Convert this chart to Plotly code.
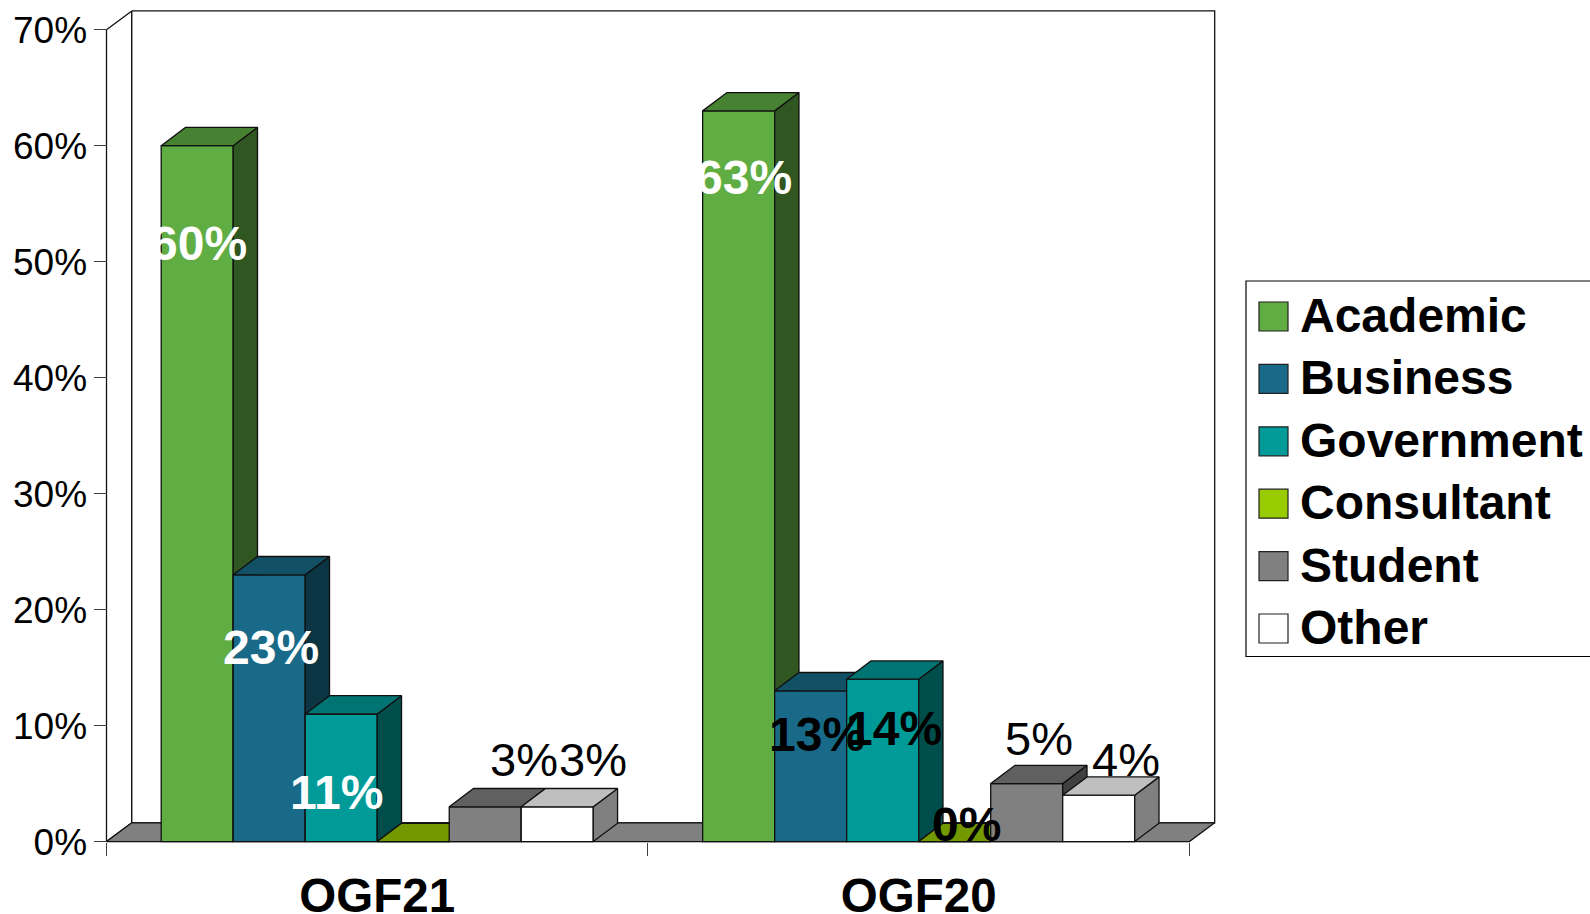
import plotly.graph_objects as go

# ---- data ----
categories = ["OGF21", "OGF20"]
series_names = ["Academic", "Business", "Government", "Consultant", "Student", "Other"]
academic = [60, 63]
business = [23, 13]
government = [11, 14]
consultant = [0, 0]
student = [3, 5]
other = [3, 4]
y_ticks = [0, 10, 20, 30, 40, 50, 60, 70]
series_values = [academic, business, government, consultant, student, other]

# ---- style ----
colors = ["#5FAD43", "#186A88", "#009B99", "#99CC00", "#808080", "#FFFFFF"]
FONT = "Liberation Sans, Arial, sans-serif"
W, H = 1590, 914
X0, X1, Y0, Y1 = 106.5, 1189.4, 841.6, 29.7      # pixel frame of the front of the axes
PAD_L, PAD_R, PAD_B, PAD_T = 100, 1230, 850, 4   # plot area, a bit larger so the 3D box is not clipped
BAR_W = 0.798 / 6
BAR_DX, BAR_DY = 0.0449, 1.58
WALL_DX, WALL_DY = 0.0467, 1.62
EDGE = dict(color="#101010", width=1.3)

# per label: (series, category) -> xshift, yshift, colour, bold
label_style = {
    (0, 0): (2, -98, "white", True), (1, 0): (1.5, -73, "white", True), (2, 0): (-5, -78, "white", True),
    (4, 0): (39, 47, "black", False), (5, 0): (35.5, 47, "black", False),
    (0, 1): (5, -67, "white", True), (1, 1): (6, -44, "black", True), (2, 1): (11, -49, "black", True),
    (3, 1): (12, 17, "black", True), (4, 1): (12, 45, "black", False), (5, 1): (27, 36, "black", False),
}

L, R = -0.5, 1.5
T = y_ticks[-1]
PX_X = (X1 - X0) / (R - L)
PX_Y = (Y0 - Y1) / T


def x_of(px):
    return L + (px - X0) / PX_X


def y_of(py):
    return (Y0 - py) / PX_Y


def shade(hex_color, f):
    r, g, b = (int(hex_color[i:i + 2], 16) for i in (1, 3, 5))
    return f"rgb({round(r * f)},{round(g * f)},{round(b * f)})"


fig = go.Figure()


def poly(xs, ys, fill, xa="x", ya="y", line=EDGE):
    fig.add_trace(go.Scatter(x=xs, y=ys, mode="lines", fill="toself", fillcolor=fill, line=line,
                             xaxis=xa, yaxis=ya, hoverinfo="skip", showlegend=False))


# walls and floor of the 3D box, in axis units
poly([L, L + WALL_DX, L + WALL_DX, L, L], [T, T + WALL_DY, WALL_DY, 0, T], "white")
poly([L + WALL_DX, R + WALL_DX, R + WALL_DX, L + WALL_DX, L + WALL_DX],
     [T + WALL_DY, T + WALL_DY, WALL_DY, WALL_DY, T + WALL_DY], "white")
poly([L, L + WALL_DX, R + WALL_DX, R, L], [0, WALL_DY, WALL_DY, 0, 0], "#808080")

# one overlaid subplot per series so that bars occlude each other left to right
layout_axes = {}
for i, (name, vals, col) in enumerate(zip(series_names, series_values, colors)):
    n = i + 2
    xa, ya = f"x{n}", f"y{n}"
    layout_axes[f"xaxis{n}"] = dict(overlaying="x", matches="x", visible=False)
    layout_axes[f"yaxis{n}"] = dict(overlaying="y", matches="y", visible=False)
    offset = -3 * BAR_W + i * BAR_W
    fig.add_trace(go.Bar(x=list(range(len(categories))), y=vals, width=BAR_W, offset=offset, name=name,
                         marker=dict(color=col, line=EDGE), xaxis=xa, yaxis=ya, showlegend=False))
    sx, sy, tx, ty = [], [], [], []
    for c, v in enumerate(vals):
        a = c + offset
        b = a + BAR_W
        sx += [b, b + BAR_DX, b + BAR_DX, b, b, None]
        sy += [0, BAR_DY, v + BAR_DY, v, 0, None]
        tx += [a, a + BAR_DX, b + BAR_DX, b, a, None]
        ty += [v, v + BAR_DY, v + BAR_DY, v, v, None]
    poly(sx, sy, shade(col, 0.5), xa, ya)
    poly(tx, ty, shade(col, 0.75), xa, ya)

# data labels
annotations = []
for (s, c), (dx, dy, colr, bold) in label_style.items():
    v = series_values[s][c]
    annotations.append(dict(x=c - 3 * BAR_W + (s + 0.5) * BAR_W, y=v, xref="x", yref="y", text=f"{v}%",
                            showarrow=False, xshift=dx, yshift=dy, xanchor="center", yanchor="middle",
                            font=dict(family=FONT, size=48 if bold else 47, color=colr,
                                      weight="bold" if bold else "normal")))

# legend box, swatches and names
shapes = [dict(type="rect", xref="paper", yref="paper", x0=1246 / W, x1=1.02, y0=1 - 656.5 / H, y1=1 - 281 / H,
               line=dict(color="black", width=1.2), fillcolor="white", layer="above")]
for i, (name, col) in enumerate(zip(series_names, colors)):
    cy = 316.5 + i * 62.4
    shapes.append(dict(type="rect", xref="paper", yref="paper", x0=1259 / W, x1=1288 / W,
                       y0=1 - (cy + 14.5) / H, y1=1 - (cy - 14.5) / H, fillcolor=col,
                       line=dict(color="#202020", width=1.2), layer="above"))
    annotations.append(dict(x=1298 / W, y=1 - (cy - 1) / H, xref="paper", yref="paper",
                            text=name, showarrow=False, xanchor="left", yanchor="middle",
                            font=dict(family=FONT, size=48, color="black", weight="bold")))

fig.update_layout(
    width=W, height=H, margin=dict(l=0, r=0, t=0, b=0, pad=0, autoexpand=False), autosize=False,
    paper_bgcolor="white", plot_bgcolor="white", showlegend=False, barmode="overlay",
    xaxis=dict(domain=[PAD_L / W, PAD_R / W], range=[x_of(PAD_L), x_of(PAD_R)],
               anchor="free", position=1 - Y0 / H,
               tickmode="array", tickvals=list(range(len(categories))),
               ticktext=categories, ticks="", showgrid=False, zeroline=False, showline=False,
               ticklabelstandoff=22,
               tickfont=dict(family=FONT, size=47.5, color="black", weight="bold"),
               minor=dict(tickmode="array", tickvals=[-0.5, 0.5, 1.5], ticks="outside", ticklen=13,
                          tickcolor="#404040", tickwidth=1.2, showgrid=False)),
    yaxis=dict(domain=[1 - PAD_B / H, 1 - PAD_T / H], range=[y_of(PAD_B), y_of(PAD_T)],
               anchor="free", position=X0 / W,
               tickmode="array", tickvals=y_ticks,
               ticktext=[f"{t}%" for t in y_ticks], ticks="outside", ticklen=13, tickcolor="#404040", tickwidth=1.2,
               showgrid=False, zeroline=False, showline=False, ticklabelstandoff=-1,
               tickfont=dict(family=FONT, size=37, color="black")),
    annotations=annotations, shapes=shapes, **layout_axes,
)

fig.write_html("out.html", config=dict(displayModeBar=False),
               post_script="document.body.style.margin='0';document.body.style.overflow='hidden';")
